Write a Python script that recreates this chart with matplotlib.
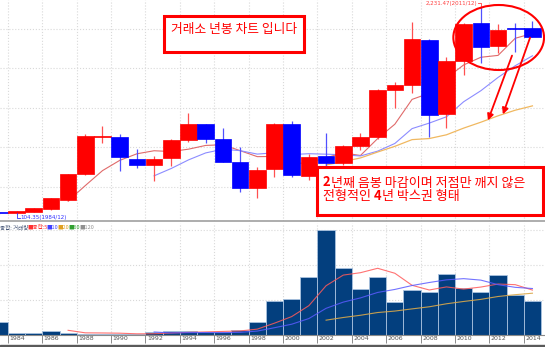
import matplotlib
matplotlib.use("Agg")
import matplotlib.pyplot as plt
from matplotlib.patches import Rectangle, Ellipse, FancyArrowPatch
from matplotlib.lines import Line2D
import matplotlib.transforms as mtransforms
import numpy as np

plt.rcParams['font.family'] = ['Noto Sans CJK KR', 'DejaVu Sans']

# yearly candles (KOSPI)
years = list(range(1983, 2015))
opens = [128, 128, 146, 169, 263, 527, 905, 907, 683, 619, 687, 870, 1032, 883, 652, 382,
         580, 1032, 507, 710, 636, 815, 900, 1380, 1432, 1889, 1137, 1679, 2059, 1828, 2008, 2008]
highs = [130, 152, 181, 287, 530, 931, 1015, 937, 778, 710, 880, 1150, 1035, 992, 805, 602,
         1050, 1069, 728, 947, 825, 947, 1390, 1465, 2075, 1900, 1720, 2060, 2231, 2052, 2065, 2085]
lows = [126, 126, 144, 165, 253, 520, 846, 561, 585, 459, 607, 856, 839, 652, 348, 280,
        495, 494, 466, 612, 620, 771, 880, 1195, 1348, 906, 992, 1533, 1652, 1754, 1770, 1917]
closes = [127, 150, 179, 280, 527, 914, 912, 697, 616, 683, 873, 1032, 886, 652, 382, 568,
          1040, 517, 703, 636, 815, 907, 1380, 1432, 1896, 1127, 1676, 2049, 1821, 1991, 2000, 1917]

# moving average lines as drawn on the chart
ma5 = [253, 410, 562, 666, 733, 764, 756, 780, 818, 825, 765, 704, 706, 632, 642, 693, 742,
       716, 888, 1034, 1286, 1348, 1502, 1636, 1714, 1733, 1907, 1956]          # 1987-2014
ma10 = [509, 584, 671, 742, 779, 765, 730, 743, 725, 734, 729, 723, 711, 760, 838, 989, 1045,
        1109, 1262, 1374, 1509, 1628, 1729]                                      # 1992-2014
ma20 = [620, 653, 691, 751, 809, 877, 888, 926, 994, 1054, 1119, 1176, 1220]      # 2002-2014

# volume panel
volume = [19, 2.4, 3.3, 5.7, 3.3, 1.0, 1.4, 1.4, 1.4, 3.9, 6.1, 6.1, 4.7, 4.7, 7.6, 19,
          48.6, 51.4, 82.9, 150, 95.3, 65.3, 82.9, 47.6, 63.9, 61.9, 87.1, 67.6, 61.9, 85.7, 57.1, 48.6]
vma5 = [6.7, 3.1, 2.9, 2.6, 1.7, 1.8, 2.8, 3.8, 4.4, 5.1, 5.8, 8.4, 16.9, 26.3, 41.9, 70.4,
        85.6, 89.0, 95.3, 88.2, 71.0, 64.3, 68.7, 65.6, 68.5, 72.8, 71.9, 64.2]
vma10 = [4.3, 3.0, 3.4, 3.5, 3.4, 3.8, 5.6, 10.4, 15.4, 23.5, 38.1, 47.0, 53.0, 60.8, 65.1,
         70.7, 75.0, 78.8, 80.5, 78.4, 71.9, 68.1, 66.4]
vma20 = [21.2, 25.0, 28.2, 32.1, 34.2, 37.3, 40.3, 44.6, 47.9, 50.9, 55.0, 57.6, 59.7]

tick_years = list(range(1984, 2015, 2))

W, H = 545, 347
def fx(x):
    return x / W
def fy(y):
    return 1 - y / H

fig = plt.figure(figsize=(5.45, 3.47), dpi=100)
fig.patch.set_facecolor("white")

ax = fig.add_axes([0, fy(221), 1, 221 / H])
axv = fig.add_axes([0, fy(335), 1, (335 - 223) / H])

xl = (1983.04, 2014.73)
grid_c = "#d9d9d9"

# ---- candles
yrs = np.array(years)
o = np.array(opens); c = np.array(closes)
cols = np.where(c >= o, "#ff0000", "#0000ff")
wick_cols = np.where(c >= o, "#ff5050", "#5050ff")
ax.vlines(yrs, lows, highs, colors=wick_cols, linewidth=0.9, zorder=3)
bottoms = np.minimum(o, c)
heights = np.maximum(np.abs(c - o), 10)
ax.bar(yrs, heights, bottom=bottoms, width=0.96, color=cols, edgecolor=cols,
       linewidth=0.5, zorder=4)

ax.plot(years[-len(ma5):], ma5, color="#e06a6a", lw=0.8, zorder=2)
ax.plot(years[-len(ma10):], ma10, color="#8c8cff", lw=0.8, zorder=2)
ax.plot(years[-len(ma20):], ma20, color="#f0b860", lw=0.9, zorder=2)

ax.set_xlim(*xl)
ax.set_ylim(50, 2296)
for yv in [400, 800, 1200, 1600, 2000]:
    ax.axhline(yv, color=grid_c, ls=":", lw=0.8, zorder=0)
for ty in tick_years:
    ax.axvline(ty - 0.5, color=grid_c, ls=":", lw=0.8, zorder=0)
ax.set_xticks([]); ax.set_yticks([])
for s in ["top", "left", "right"]:
    ax.spines[s].set_visible(False)
ax.spines["bottom"].set_color("#a0a0a0")
ax.spines["bottom"].set_linewidth(1.2)

# ---- volume
axv.bar(yrs, volume, width=1.0, color="#033f7e", edgecolor="#a9c2df", linewidth=0.6, zorder=2)
axv.plot(years[-len(vma5):], vma5, color="#ff5a5a", lw=0.8, alpha=0.85, zorder=3)
axv.plot(years[-len(vma10):], vma10, color="#5a5aff", lw=0.8, alpha=0.85, zorder=3)
axv.plot(years[-len(vma20):], vma20, color="#d9a84a", lw=0.8, alpha=0.9, zorder=3)
axv.set_xlim(*xl)
axv.set_ylim(0, 160)
for yv in [50, 100, 150]:
    axv.axhline(yv, color=grid_c, ls=":", lw=0.8, zorder=0)
for ty in tick_years:
    axv.axvline(ty - 0.5, color=grid_c, ls=":", lw=0.8, zorder=0)
axv.set_yticks([])
axv.set_xticks([ty - 0.5 for ty in tick_years])
axv.set_xticklabels([str(ty) for ty in tick_years], fontsize=4.5, color="#555555",
                    ha="left", family="DejaVu Sans")
axv.tick_params(axis="x", length=6, width=0.6, color="#777777", pad=-5.5, direction="out")
shift = mtransforms.ScaledTranslation(1.5 / 100, 0, fig.dpi_scale_trans)
for lab in axv.get_xticklabels():
    lab.set_transform(lab.get_transform() + shift)
for s in ["top", "left", "right"]:
    axv.spines[s].set_visible(False)
axv.spines["bottom"].set_color("#8a8a8a")

# bottom strip
fig.add_artist(Rectangle((0, 0), 1, 2 / H, transform=fig.transFigure, color="#5a5a5a"))

# volume legend line
legend_bits = [("종합: 거래량", "#4a5a7a", 0), ("■종합:5", "#ff3030", 27), ("■10", "#4040ff", 46),
               ("■20", "#e0a020", 57), ("■60", "#30a030", 68), ("■120", "#909090", 79)]
for txt, col, xp in legend_bits:
    fig.text(fx(xp), fy(227), txt, fontsize=4, color=col, va="center", ha="left")

# high / low markers
fig.text(fx(477), fy(3), "2,231.47(2011/12)", fontsize=4, color="#ff4040", ha="right", va="center",
         family="DejaVu Sans")
fig.add_artist(Line2D([fx(477.5), fx(481), fx(481)], [fy(3), fy(3), fy(6)], transform=fig.transFigure,
                      color="#ff4040", lw=0.6))
fig.text(fx(20), fy(218), "104.35(1984/12)", fontsize=4, color="#3030ff", ha="left", va="center",
         family="DejaVu Sans")
fig.add_artist(Line2D([fx(16.5), fx(16.5), fx(19.5)], [fy(213), fy(218), fy(218)], transform=fig.transFigure,
                      color="#3030ff", lw=0.6))

# ---- annotations
red = "#ff0000"
fig.add_artist(Rectangle((fx(164), fy(52)), (304 - 164) / W, (52 - 16) / H, transform=fig.transFigure,
                         facecolor="white", edgecolor=red, lw=2.2, zorder=5))
fig.text(fx(234), fy(29), "거래소 년봉 차트 입니다", fontsize=9.2, color=red, ha="center", va="center", zorder=6)

fig.add_artist(Rectangle((fx(317), fy(215)), (543 - 317) / W, (215 - 167) / H, transform=fig.transFigure,
                         facecolor="white", edgecolor=red, lw=2.2, zorder=5))

# mixed bold / normal text pieces, placed one after another
renderer = fig.canvas.get_renderer()
lines = [(186.5, [("2", "bold"), ("년째 음봉 마감이며 저점만 깨지 않은", "normal")]),
         (200, [("전형적인 ", "normal"), ("4", "bold"), ("년 박스권 형태", "normal")])]
for base_y, parts in lines:
    xp = 323
    for txt, wt in parts:
        t = fig.text(fx(xp), fy(base_y), txt, fontsize=9.4, color=red, weight=wt,
                     ha="left", va="baseline", zorder=6)
        bb = t.get_window_extent(renderer)
        xp = bb.x1

fig.add_artist(Ellipse((fx(498.7), fy(37.5)), 90.7 / W, 65 / H, transform=fig.transFigure,
                       fill=False, edgecolor=red, lw=1.5, zorder=5))
for (x0, y0), (x1, y1) in [((513, 53), (487, 123)), ((531, 35), (502, 117))]:
    fig.add_artist(FancyArrowPatch((fx(x0), fy(y0)), (fx(x1), fy(y1)), transform=fig.transFigure,
                                   arrowstyle="-|>", mutation_scale=9, color=red, lw=1.3, zorder=5))

fig.savefig("out.png", dpi=100)
